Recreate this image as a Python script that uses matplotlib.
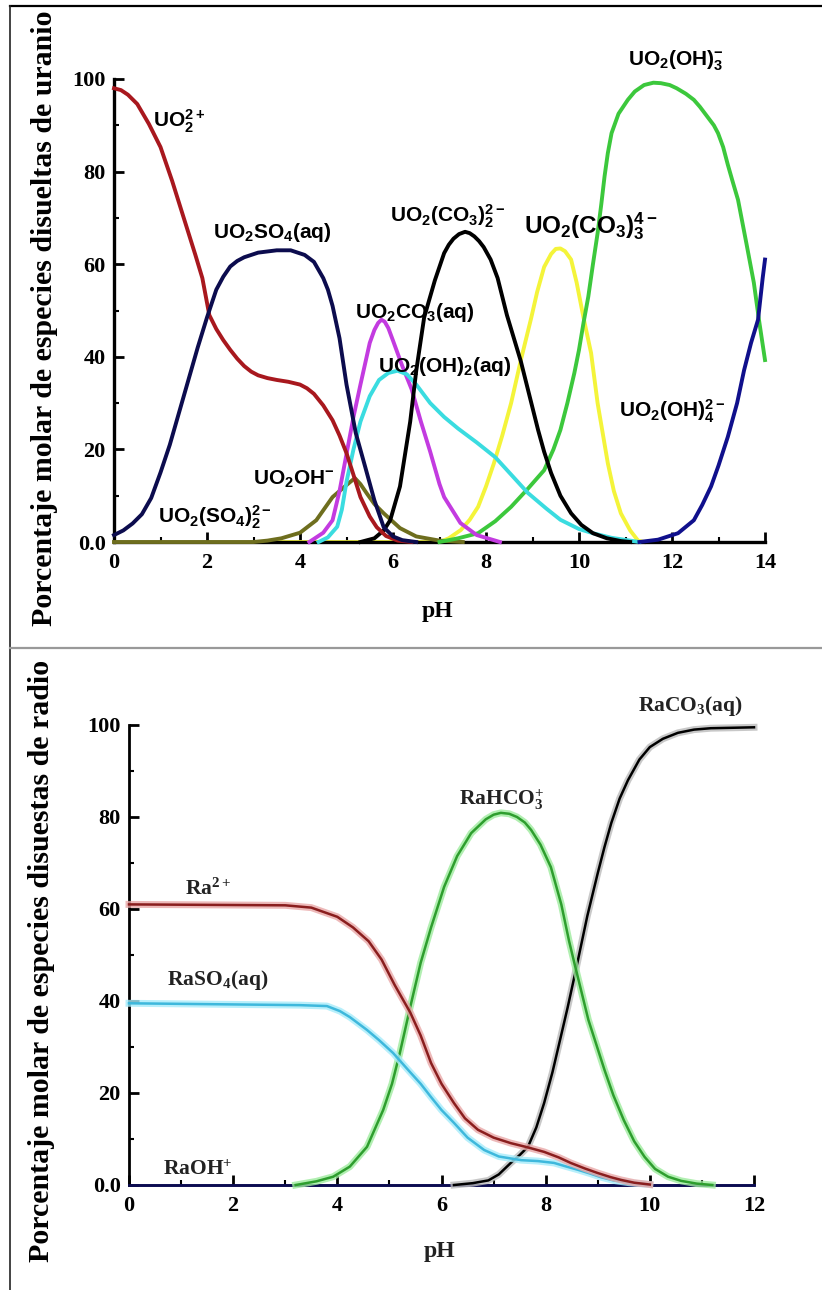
import matplotlib
matplotlib.use('Agg')
import matplotlib.pyplot as plt
from matplotlib.lines import Line2D
from matplotlib.ticker import MultipleLocator

plt.rcParams['mathtext.fontset'] = 'custom'
plt.rcParams['mathtext.sf'] = 'Liberation Sans:bold'
plt.rcParams['mathtext.rm'] = 'Liberation Serif:bold'
plt.rcParams['mathtext.it'] = 'Liberation Serif:bold'
plt.rcParams['mathtext.bf'] = 'Liberation Serif:bold'

# ---------------- uranium speciation (top) ----------------
ph_uo2 = [0, 0.15, 0.3, 0.5, 0.75, 1.0, 1.25, 1.5, 1.75, 1.9, 2.05, 2.2, 2.35, 2.5, 2.65,
          2.8, 2.95, 3.1, 3.3, 3.5, 3.75, 4.0, 4.15, 4.3, 4.5, 4.7, 4.85, 5.0, 5.15, 5.3,
          5.5, 5.65, 5.85, 6.1, 6.4]
uo2 = [98, 97.6, 96.6, 94.6, 90.3, 85.3, 78, 70, 62, 57, 49, 46, 43.6, 41.5, 39.6,
       38, 36.8, 36, 35.4, 35, 34.6, 34, 33.2, 32, 29.5, 26.3, 23, 19.2, 14.5, 9.7,
       5.5, 3.2, 1.3, 0.3, 0]

ph_uo2so4 = [0, 0.2, 0.4, 0.6, 0.8, 1.0, 1.2, 1.4, 1.6, 1.8, 2.0, 2.2, 2.35, 2.5, 2.65, 2.8,
             3.1, 3.5, 3.8, 4.1, 4.3, 4.5, 4.6, 4.7, 4.85, 5.0, 5.2, 5.4, 5.6, 5.8, 6.0,
             6.2, 6.5]
uo2so4 = [1.5, 2.5, 4, 6, 9.5, 15, 21, 28, 35, 42, 48.5, 54.5, 57.3, 59.5, 60.7, 61.5,
          62.5, 63, 63, 62, 60.5, 57, 54.5, 51, 44, 34, 23.5, 16.3, 9, 3.2, 1.2,
          0.4, 0]

ph_uo2oh = [0, 3.0, 3.3, 3.6, 4.0, 4.35, 4.7, 5.0, 5.18, 5.3, 5.45, 5.6, 5.8, 6.15, 6.5, 7.0, 7.5]
uo2oh = [0, 0, 0.3, 0.8, 2, 4.7, 9.7, 12.3, 13.8, 12.5, 10.3, 8.2, 6.2, 3, 1.2, 0.3, 0]

ph_uo2co3 = [4.2, 4.5, 4.7, 4.85, 5.0, 5.15, 5.3, 5.5, 5.6, 5.68, 5.75, 5.82, 5.9, 6.0, 6.2,
             6.4, 6.6, 6.8, 7.0, 7.1, 7.45, 7.8, 8.2, 8.3]
uo2co3 = [0, 2, 4.7, 11, 19, 27, 34, 43, 45.8, 47.3, 48, 47.6, 46.2, 43.5, 38,
          33, 26, 19.5, 12.5, 9.7, 4.1, 1.5, 0.3, 0]

ph_uo2oh2 = [4.4, 4.6, 4.8, 4.9, 5.0, 5.15, 5.3, 5.5, 5.7, 5.9, 6.1, 6.3, 6.5, 6.8, 7.1,
             7.4, 7.8, 8.2, 8.5, 8.9, 9.3, 9.6, 10.0, 10.3, 10.7, 11.1, 11.3]
uo2oh2 = [0, 1, 3.3, 7, 13, 20, 26, 31.5, 35, 36.5, 37, 36.2, 34, 30, 27,
          24.5, 21.5, 18.3, 15, 10.6, 7.2, 4.8, 2.8, 1.9, 0.9, 0.3, 0]

ph_uo2co32 = [5.3, 5.6, 5.8, 5.94, 6.15, 6.37, 6.5, 6.67, 6.9, 7.1, 7.2, 7.3, 7.42, 7.55,
              7.65, 7.75, 7.85, 7.95, 8.1, 8.25, 8.45, 8.6, 8.75, 8.95, 9.12, 9.25, 9.4,
              9.6, 9.83, 10.05, 10.3, 10.6, 10.9, 11.1]
uo2co32 = [0, 0.8, 2.5, 4.7, 12, 26, 37, 48.5, 56.5, 62.4, 64.2, 65.5, 66.5, 67,
           66.7, 66, 65, 63.7, 61, 57, 49, 44, 39, 31, 24.2, 19.5, 14.9,
           10, 6.2, 3.7, 1.9, 0.8, 0.2, 0]

ph_uo2co33 = [3.3, 7.0, 7.2, 7.46, 7.65, 7.83, 8.0, 8.17, 8.35, 8.54, 8.75, 8.97, 9.1, 9.25,
              9.4, 9.5, 9.6, 9.7, 9.83, 9.95, 10.1, 10.26, 10.4, 10.62, 10.75, 10.9, 11.1,
              11.27, 11.4]
uo2co33 = [0, 0, 0.8, 2.6, 4.8, 7.6, 12, 17, 23, 30, 39.3, 48.3, 54, 59.4,
           62.2, 63.3, 63.4, 62.8, 61, 56, 48.3, 40.8, 30, 17, 11, 6.2, 2.5,
           0.3, 0]

ph_uo2oh3 = [7.0, 7.4, 7.83, 8.2, 8.54, 8.9, 9.25, 9.45, 9.6, 9.75, 9.9, 10.0, 10.1, 10.2,
             10.3, 10.4, 10.48, 10.55, 10.62, 10.7, 10.85, 11.05, 11.2, 11.4, 11.6, 11.76,
             11.95, 12.1, 12.3, 12.47, 12.6, 12.75, 12.9, 12.99, 13.1, 13.2, 13.3, 13.42,
             13.6, 13.76, 13.87, 14.0]
uo2oh3 = [0, 0.8, 1.9, 4.5, 7.6, 11.5, 15.5, 20, 24.2, 30, 36.5, 41.5, 47.5, 53,
          60, 66.7, 73, 79, 84, 88.3, 92.5, 95.5, 97.3, 98.7, 99.2, 99.1,
          98.7, 98, 96.8, 95.5, 94, 92, 90, 88.3, 85.3, 81.5, 78, 73.9,
          64.5, 56, 48, 39.3]

ph_uo2oh4 = [11.3, 11.7, 12.13, 12.47, 12.65, 12.84, 13.0, 13.2, 13.4, 13.55, 13.7, 13.85, 13.95, 14.0]
uo2oh4 = [0, 0.5, 1.9, 4.7, 8, 12, 16.5, 22.7, 30, 37.1, 43, 48, 57, 61]

# ---------------- radium speciation (bottom) ----------------
ph_ra = [0, 3.0, 3.5, 4.0, 4.3, 4.6, 4.85, 5.1, 5.4, 5.6, 5.8, 6.0, 6.24, 6.45, 6.7, 7.0,
         7.33, 7.65, 7.97, 8.25, 8.48, 8.75, 9.0, 9.25, 9.45, 9.7, 10.0]
ra = [61, 60.8, 60.3, 58.3, 56, 53, 49, 43.5, 37.5, 32.5, 26.5, 22, 17.8, 14.5, 12, 10.3,
      9.1, 8.2, 7.2, 6, 4.8, 3.6, 2.6, 1.7, 1.1, 0.5, 0.1]

ph_raso4 = [0, 3.28, 3.8, 4.05, 4.24, 4.57, 4.8, 5.07, 5.4, 5.6, 5.8, 6.0, 6.24, 6.5, 6.82,
            7.1, 7.53, 7.85, 8.16, 8.4, 8.62, 8.85, 9.06, 9.3, 9.6, 10.0]
raso4 = [39.5, 39.1, 38.9, 37.8, 36.5, 33.7, 31.5, 28.7, 24.5, 22, 19.1, 16.3, 13.5, 10.3, 7.6,
         6.2, 5.4, 5.2, 4.8, 4.0, 3.3, 2.5, 1.7, 1.0, 0.5, 0.1]

ph_rahco3 = [3.2, 3.6, 3.92, 4.24, 4.57, 4.88, 5.05, 5.2, 5.4, 5.6, 5.8, 6.05, 6.3, 6.57, 6.85,
             7.0, 7.14, 7.3, 7.45, 7.6, 7.72, 7.9, 8.1, 8.3, 8.45, 8.55, 8.82, 9.13, 9.3,
             9.5, 9.7, 9.9, 10.1, 10.35, 10.6, 10.9, 11.2]
rahco3 = [0, 0.8, 1.8, 4, 8.3, 16.3, 22, 28.7, 38.7, 48.3, 56, 64.8, 71.5, 76.5, 79.5,
          80.5, 80.9, 80.7, 80, 78.8, 77.2, 74, 69.1, 61, 53, 48.3, 35.9, 25, 19.5,
          14.1, 9.5, 6.1, 3.5, 1.8, 0.9, 0.3, 0]

ph_raco3 = [6.24, 6.6, 6.9, 7.1, 7.33, 7.5, 7.66, 7.82, 7.97, 8.13, 8.29, 8.42, 8.55, 8.62,
            8.8, 9.0, 9.13, 9.26, 9.42, 9.58, 9.8, 10.0, 10.25, 10.54, 10.85, 11.17, 11.6, 12.0]
raco3 = [0, 0.4, 1, 2.3, 4.8, 6.5, 8.3, 12.5, 17.8, 24.5, 32.2, 38.5, 45.2, 48.9,
         58.5, 67.8, 73.5, 78.7, 84, 88, 92.5, 95.2, 97, 98.3, 99, 99.3, 99.4, 99.5]

ph_raoh = [0, 12]
raoh = [0, 0]

yticks = [0, 20, 40, 60, 80, 100]
ytick_labels = ['0.0', '20', '40', '60', '80', '100']

fig = plt.figure(figsize=(8.22, 12.9), dpi=100)

# frame around the picture
fig.add_artist(Line2D([10/822, 1], [1-6/1290, 1-6/1290], color='black', lw=1.6))
fig.add_artist(Line2D([10/822, 10/822], [0, 1-6/1290], color='#222222', lw=1.2))
fig.add_artist(Line2D([10/822, 1], [1-648/1290, 1-648/1290], color='#999999', lw=1.6))


def style_axes(ax, xmax, spine_lw):
    ax.set_xlim(0, xmax)
    ax.set_ylim(0, 100)
    for s in ['top', 'right']:
        ax.spines[s].set_visible(False)
    for s in ['left', 'bottom']:
        ax.spines[s].set_linewidth(spine_lw)
    ax.set_xticks(range(0, xmax + 1, 2))
    ax.xaxis.set_minor_locator(MultipleLocator(1))
    ax.set_yticks(yticks)
    ax.set_yticklabels(ytick_labels)
    ax.yaxis.set_minor_locator(MultipleLocator(10))
    ax.tick_params(which='major', direction='in', length=7, width=2)
    ax.tick_params(which='minor', direction='in', length=3.5, width=1.5)
    ax.tick_params(axis='x', pad=8)
    ax.tick_params(axis='y', pad=6)
    for lab in ax.get_xticklabels() + ax.get_yticklabels():
        lab.set_fontfamily('Liberation Serif')
        lab.set_fontweight('bold')
        lab.set_fontsize(16)


# ---------------- top panel ----------------
ax1 = fig.add_axes([114/822, 1-542/1290, 651/822, 463/1290])
style_axes(ax1, 14, 2.4)
lw = 2.8
ax1.plot(ph_uo2oh, uo2oh, color='#6E6E1E', lw=lw, clip_on=False, zorder=3)
ax1.plot(ph_uo2co33, uo2co33, color='#F4F43A', lw=lw, clip_on=False, zorder=2)
ax1.plot(ph_uo2oh3, uo2oh3, color='#3CC83C', lw=lw, clip_on=False, zorder=3)
ax1.plot(ph_uo2, uo2, color='#A8181E', lw=lw, clip_on=False, zorder=4)
ax1.plot(ph_uo2so4, uo2so4, color='#0C0C4E', lw=lw, clip_on=False, zorder=4)
ax1.plot(ph_uo2co3, uo2co3, color='#C33BE0', lw=lw, clip_on=False, zorder=3)
ax1.plot(ph_uo2oh2, uo2oh2, color='#3ADCE0', lw=lw, clip_on=False, zorder=3)
ax1.plot(ph_uo2co32, uo2co32, color='black', lw=lw, clip_on=False, zorder=3)
ax1.plot(ph_uo2oh4, uo2oh4, color='#10108C', lw=lw, clip_on=False, zorder=3)

tk = dict(fontsize=15, color='black', clip_on=False, zorder=6)
ax1.text(0.84, 89.6, r'$\mathsf{UO_2^{2+}}$', **tk)
ax1.text(2.13, 65.6, r'$\mathsf{UO_2SO_4(aq)}$', **tk)
ax1.text(5.94, 69.1, r'$\mathsf{UO_2(CO_3)_2^{2-}}$', **tk)
ax1.text(8.82, 66.7, r'$\mathsf{UO_2(CO_3)_3^{4-}}$', fontsize=17.5, color='black',
         clip_on=False, zorder=6)
ax1.text(11.05, 103, r'$\mathsf{UO_2(OH)_3^{-}}$', **tk)
ax1.text(5.18, 48.4, r'$\mathsf{UO_2CO_3(aq)}$', **tk)
ax1.text(5.68, 36.7, r'$\mathsf{UO_2(OH)_2(aq)}$', **tk)
ax1.text(10.86, 27, r'$\mathsf{UO_2(OH)_4^{2-}}$', **tk)
ax1.text(2.99, 12.3, r'$\mathsf{UO_2OH^{-}}$', **tk)
ax1.text(0.95, 4.1, r'$\mathsf{UO_2(SO_4)_2^{2-}}$', **tk)

fig.text(437/822, 1-611/1290, 'pH', fontfamily='Liberation Serif', fontweight='bold',
         fontsize=17, ha='center', va='center')
fig.text(45/822, 1-318/1290, 'Porcentaje molar de especies disueltas de uranio',
         fontfamily='Liberation Serif', fontweight='bold', fontsize=21.5,
         rotation=90, ha='center', va='center')

# ---------------- bottom panel ----------------
ax2 = fig.add_axes([129/822, 1-1185/1290, 625/822, 460/1290])
style_axes(ax2, 12, 2.0)
ax2.spines['bottom'].set_color('#0C0C50')
lw2 = 1.8
glow = 5.0
series = [
    (ph_raoh, raoh, '#14146E', None),
    (ph_raco3, raco3, 'black', '#BBBBBB'),
    (ph_rahco3, rahco3, '#2E9E2E', '#9EEB9E'),
    (ph_raso4, raso4, '#3EB8DC', '#A6ECFA'),
    (ph_ra, ra, '#8A1E1E', '#E9A8A8'),
]
for i, (xs, ys, c, g) in enumerate(series):
    if g is not None:
        ax2.plot(xs, ys, color=g, lw=glow, alpha=0.8, clip_on=False, zorder=2 + i)
    ax2.plot(xs, ys, color=c, lw=lw2, clip_on=False, zorder=2.5 + i)

rk = dict(fontsize=15.5, color='#222222', clip_on=False, zorder=8)
ax2.text(1.075, 63, r'$\mathrm{Ra^{2+}}$', **rk)
ax2.text(0.73, 43.5, r'$\mathrm{RaSO_4(aq)}$', **rk)
ax2.text(0.65, 2.2, r'$\mathrm{RaOH^{+}}$', **rk)
ax2.text(6.34, 82.6, r'$\mathrm{RaHCO_3^{+}}$', **rk)
ax2.text(9.77, 103, r'$\mathrm{RaCO_3(aq)}$', **rk)

fig.text(439/822, 1-1252/1290, 'pH', fontfamily='Liberation Serif', fontweight='bold',
         fontsize=17, ha='center', va='center', color='#222222')
fig.text(42/822, 1-961/1290, 'Porcentaje molar de especies disuestas de radio',
         fontfamily='Liberation Serif', fontweight='bold', fontsize=21.5,
         rotation=90, ha='center', va='center')

fig.savefig('out.png', dpi=100)
